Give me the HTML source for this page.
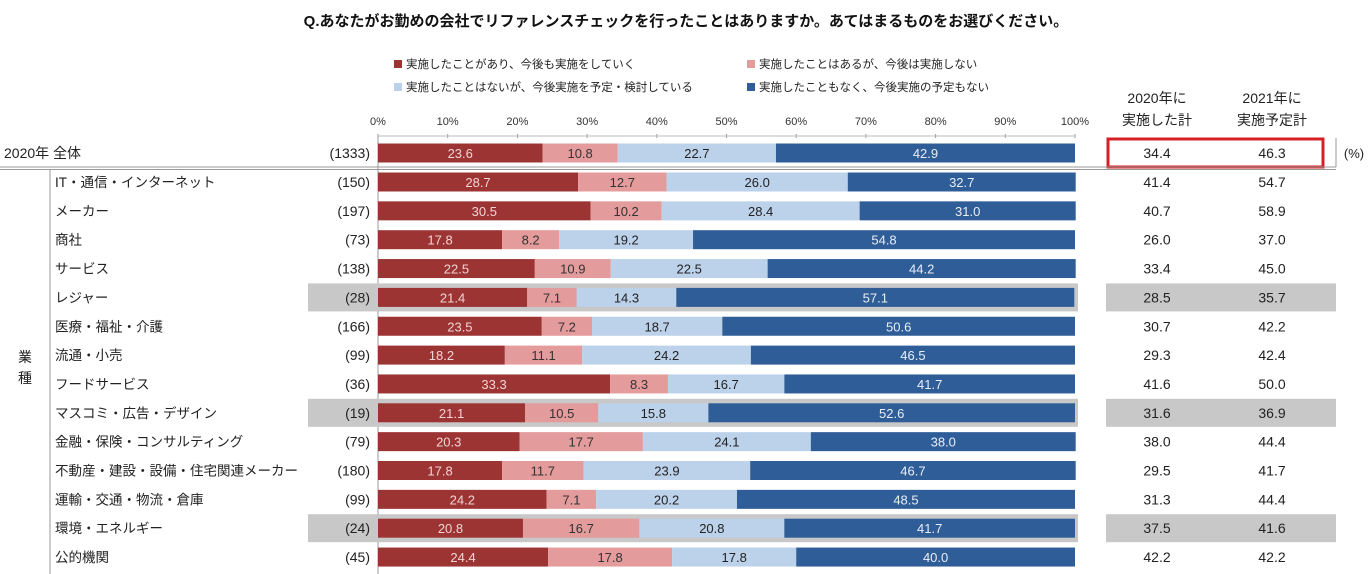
<!DOCTYPE html>
<html><head><meta charset="utf-8">
<style>
body{margin:0;background:#fff;}
svg{display:block;font-family:"Liberation Sans","Noto Sans CJK JP",sans-serif;}
</style></head>
<body>
<svg id="chart" width="1372" height="574" viewBox="0 0 1372 574">
<text x="686" y="26" text-anchor="middle" font-size="15" font-weight="bold" fill="#111">Q.あなたがお勤めの会社でリファレンスチェックを行ったことはありますか。あてはまるものをお選びください。</text>
<g id="legend"></g>
<g id="axis"></g>
<g id="rows"></g>
<g id="right"></g>
</svg>
<script>
const categories=["2020年 全体","IT・通信・インターネット","メーカー","商社","サービス","レジャー","医療・福祉・介護","流通・小売","フードサービス","マスコミ・広告・デザイン","金融・保険・コンサルティング","不動産・建設・設備・住宅関連メーカー","運輸・交通・物流・倉庫","環境・エネルギー","公的機関"];
const counts=[1333,150,197,73,138,28,166,99,36,19,79,180,99,24,45];
const s1=[23.6,28.7,30.5,17.8,22.5,21.4,23.5,18.2,33.3,21.1,20.3,17.8,24.2,20.8,24.4];
const s2=[10.8,12.7,10.2,8.2,10.9,7.1,7.2,11.1,8.3,10.5,17.7,11.7,7.1,16.7,17.8];
const s3=[22.7,26.0,28.4,19.2,22.5,14.3,18.7,24.2,16.7,15.8,24.1,23.9,20.2,20.8,17.8];
const s4=[42.9,32.7,31.0,54.8,44.2,57.1,50.6,46.5,41.7,52.6,38.0,46.7,48.5,41.7,40.0];
const total2020=[34.4,41.4,40.7,26.0,33.4,28.5,30.7,29.3,41.6,31.6,38.0,29.5,31.3,37.5,42.2];
const total2021=[46.3,54.7,58.9,37.0,45.0,35.7,42.2,42.4,50.0,36.9,44.4,41.7,44.4,41.6,42.2];
const highlighted=[5,9,13];
const ticks=[0,10,20,30,40,50,60,70,80,90,100];
const seriesNames=["実施したことがあり、今後も実施をしていく","実施したことはあるが、今後は実施しない","実施したことはないが、今後実施を予定・検討している","実施したこともなく、今後実施の予定もない"];

const NS="http://www.w3.org/2000/svg";
const colors=["#9c3434","#e39b9b","#bcd1ea","#2f5d98"];
const txtCol=["#f2d4d4","#333","#222","#e8eef7"];
const X0=378,X1=1075;
const x=v=>X0+(X1-X0)*v/100;
const rowY=i=>i===0?153:182+(i-1)*28.85;
function el(tag,attrs,parent,text){const e=document.createElementNS(NS,tag);for(const k in attrs)e.setAttribute(k,attrs[k]);if(text!==undefined)e.textContent=text;parent.appendChild(e);return e;}
const svg=document.getElementById('chart');
const lg=document.getElementById('legend'),ax=document.getElementById('axis'),rows=document.getElementById('rows'),right=document.getElementById('right');

const lpos=[[394,65],[747,65],[394,88],[747,88]];
seriesNames.forEach((n,i)=>{
  const g=el('g',{},lg);
  
  
  el('rect',{x:lpos[i][0],y:lpos[i][1]-5,width:8,height:8,fill:colors[i]},g);
  el('text',{x:lpos[i][0]+12,y:lpos[i][1]+3,'font-size':11.5,fill:'#222'},g,n);
});
ticks.forEach(t=>{
  const tx=el('text',{x:x(t),y:125,'font-size':11,'text-anchor':'middle',fill:'#333'},ax,t+'%');
  
  
  el('line',{x1:x(t),x2:x(t),y1:134,y2:138,stroke:'#999'},ax);
});
el('line',{x1:X0,x2:X1,y1:136,y2:136,stroke:'#bbb'},ax);
el('line',{x1:X0,x2:X0,y1:136,y2:574,stroke:'#999'},ax);

highlighted.forEach(i=>{
  const y=rowY(i);
  const b=el('rect',{x:308,y:y-14,width:770,height:28,fill:'#c8c8c8'},rows);
  
  
  const b2=el('rect',{x:1106,y:y-14,width:230,height:28,fill:'#c8c8c8'},right);
  
  
});
el('line',{x1:0,x2:1336,y1:167,y2:167,stroke:'#999','stroke-width':1},svg);
el('line',{x1:0,x2:1336,y1:169.5,y2:169.5,stroke:'#999','stroke-width':1},svg);
el('line',{x1:50,x2:50,y1:170,y2:574,stroke:'#999'},svg);
el('line',{x1:1336,x2:1336,y1:138,y2:167,stroke:'#999'},svg);
const gy=el('text',{x:25,y:362,'font-size':14,'text-anchor':'middle',fill:'#222'},svg,'業');


el('text',{x:25,y:383,'font-size':14,'text-anchor':'middle',fill:'#222'},svg,'種');

const series=[s1,s2,s3,s4];
categories.forEach((c,i)=>{
  const y=rowY(i);
  const lab=el('text',{x:i===0?4:55,y:y+5,'font-size':i===0?14:13.5,fill:'#222'},rows,c);
  
  
  const cn=el('text',{x:370,y:y+5,'font-size':14,'text-anchor':'end',fill:'#222'},rows,'('+counts[i]+')');
  
  
  let acc=0;
  series.forEach((s,k)=>{
    const v=s[i];
    const r=el('rect',{x:x(acc),y:y-9.5,width:x(acc+v)-x(acc),height:19,fill:colors[k]},rows);
    
    
    const t=el('text',{x:(x(acc)+x(acc+v))/2,y:y+5,'font-size':13,'text-anchor':'middle',fill:txtCol[k]},rows,v.toFixed(1));
    
    
    acc+=v;
  });
  const a=el('text',{x:1157,y:y+5,'font-size':14,'text-anchor':'middle',fill:'#222'},right,total2020[i].toFixed(1));
  
  
  const b=el('text',{x:1272,y:y+5,'font-size':14,'text-anchor':'middle',fill:'#222'},right,total2021[i].toFixed(1));
  
  
});
[['2020年に',1157,103],['実施した計',1157,125],['2021年に',1272,103],['実施予定計',1272,125]].forEach(h=>{
  const t=el('text',{x:h[1],y:h[2],'font-size':14,'text-anchor':'middle',fill:'#222'},right,h[0]);
  
  
});
const box=el('rect',{x:1108,y:139,width:215,height:28,fill:'none',stroke:'#d61f26','stroke-width':3},right);


const pc=el('text',{x:1354,y:158,'font-size':13,'text-anchor':'middle',fill:'#222'},right,'(%)');


</script>
</body></html>
